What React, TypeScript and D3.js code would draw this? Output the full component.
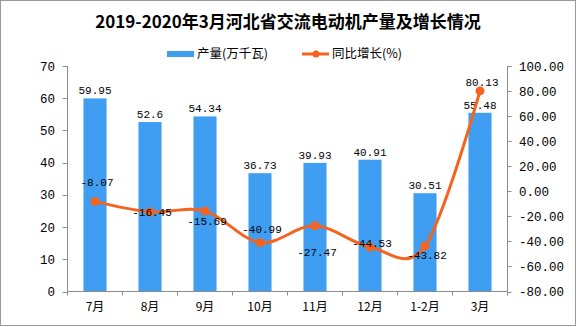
import React from "react";
import * as d3 from "d3";

const categories = ["7月", "8月", "9月", "10月", "11月", "12月", "1-2月", "3月"];
const output = [59.95, 52.6, 54.34, 36.73, 39.93, 40.91, 30.51, 55.48];
const growth = [-8.07, -16.45, -15.69, -40.99, -27.47, -44.53, -43.82, 80.13];
const leftTicks = [0, 10, 20, 30, 40, 50, 60, 70];
const rightTicks = [-80, -60, -40, -20, 0, 20, 40, 60, 80, 100];

const W = 576;
const H = 327;
const left = 67.5;
const right = 507.5;
const top = 66;
const bottom = 291.5;

const BLUE = "#3F9DF2";
const ORANGE = "#F5641E";
const AXIS = "#8C8C8C";
const NUM_FONT = "'Liberation Mono', 'DejaVu Sans Mono', monospace";
const CJK_FONT = "'Noto Sans CJK SC', sans-serif";

// label placement relative to points (style)
const lineLabelDy = [-19, 0, 10, -14, 26, -4, 9, -9];

export default function App() {
  const x = d3.scaleBand<string>().domain(categories).range([left, right]).paddingInner(0.58).paddingOuter(0.29);
  const yL = d3.scaleLinear().domain([0, 70]).range([bottom, top]);
  const yR = d3.scaleLinear().domain([-80, 100]).range([bottom, top]);
  const cx = (c: string) => (x(c) as number) + x.bandwidth() / 2;
  const step = (right - left) / categories.length;

  const line = d3
    .line<number>()
    .x((_, i) => cx(categories[i]))
    .y((d) => yR(d))
    .curve(d3.curveCardinal.tension(0));

  return (
    <svg width={W} height={H} style={{ position: "absolute", left: 0, top: 0, background: "#fff" }}>
      <rect x={0.5} y={0.5} width={W - 1} height={H - 2} fill="#fff" stroke="#9a9a9a" strokeWidth={1} />
      <text x={288} y={28} textAnchor="middle" fontFamily={CJK_FONT} fontWeight="bold" fontSize={17} fill="#000">
        2019-2020年3月河北省交流电动机产量及增长情况
      </text>
      {/* legend */}
      <rect x={167} y={51} width={27} height={6} fill={BLUE} />
      <text x={197} y={58} fontFamily={CJK_FONT} fontSize={12.5} fill="#000">产量(万千瓦)</text>
      <line x1={302} x2={329} y1={54} y2={54} stroke={ORANGE} strokeWidth={3} />
      <circle cx={316} cy={54} r={3.5} fill={ORANGE} />
      <text x={332} y={58} fontFamily={CJK_FONT} fontSize={12.5} fill="#000">同比增长(%)</text>

      {/* bars */}
      {output.map((v, i) => (
        <rect key={"b" + i} x={x(categories[i])} y={yL(v)} width={x.bandwidth()} height={bottom - yL(v)} fill={BLUE} />
      ))}
      {output.map((v, i) => (
        <text key={"bl" + i} x={cx(categories[i])} y={yL(v) - 4} textAnchor="middle" fontFamily={NUM_FONT} fontSize={11} fill="#000">
          {String(v)}
        </text>
      ))}

      {/* axes */}
      <line x1={left} x2={left} y1={top} y2={bottom} stroke={AXIS} />
      {leftTicks.map((t) => (
        <g key={"lt" + t}>
          <line x1={left - 5} x2={left} y1={Math.round(yL(t)) + 0.5} y2={Math.round(yL(t)) + 0.5} stroke={AXIS} />
          <text x={55} y={yL(t) + 4.5} textAnchor="end" fontFamily={NUM_FONT} fontSize={12.5} fill="#000">{t}</text>
        </g>
      ))}
      <line x1={right} x2={right} y1={top} y2={bottom} stroke={AXIS} />
      {rightTicks.map((t) => (
        <g key={"rt" + t}>
          <line x1={right} x2={right + 4} y1={Math.round(yR(t)) + 0.5} y2={Math.round(yR(t)) + 0.5} stroke={AXIS} />
          <text x={519} y={yR(t) + 4.5} fontFamily={NUM_FONT} fontSize={12.5} fill="#000">{t.toFixed(2)}</text>
        </g>
      ))}
      <line x1={left} x2={right} y1={bottom} y2={bottom} stroke={AXIS} />
      {d3.range(categories.length + 1).map((i) => (
        <line key={"xt" + i} x1={left + i * step} x2={left + i * step} y1={bottom} y2={bottom + 4} stroke={AXIS} />
      ))}
      {categories.map((c) => (
        <text key={"xl" + c} x={cx(c)} y={311} textAnchor="middle" fontFamily={CJK_FONT} fontSize={12} fill="#000">{c}</text>
      ))}

      {/* line */}
      <path d={line(growth) || ""} fill="none" stroke={ORANGE} strokeWidth={3} />
      {growth.map((v, i) => (
        <circle key={"p" + i} cx={cx(categories[i])} cy={yR(v)} r={4.5} fill={ORANGE} />
      ))}
      {growth.map((v, i) => (
        <text key={"pl" + i} x={cx(categories[i]) + 2} y={yR(v) + lineLabelDy[i] + 4} textAnchor="middle" fontFamily={NUM_FONT} fontSize={11} fill="#000">
          {v.toFixed(2)}
        </text>
      ))}
    </svg>
  );
}
